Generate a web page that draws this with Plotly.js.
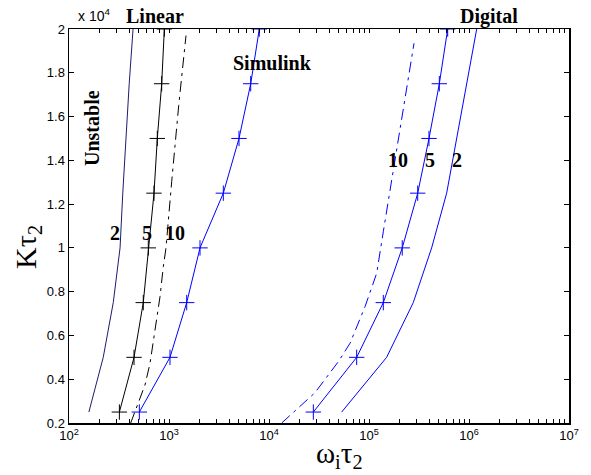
<!DOCTYPE html>
<html><head><meta charset="utf-8">
<script src="https://cdn.plot.ly/plotly-3.0.1.min.js"></script>
<style>body{margin:0;background:#fff}#c{width:591px;height:475px}</style>
</head><body><div id="c"></div>
<script>
const K = [2500, 5000, 7500, 10000, 12500, 15000, 17500, 20000];
// Linear (black)
const lin2 = [158, 220, 277, 324, 345, 370, 400, 437];
const lin5 = [319, 447, 553, 621, 708, 764, 845, 898];
const lin10K = [2000, 3736, 4727, 6250, 7770, 9140, 10000, 13024, 16500, 19700];
const lin10 = [414, 575, 646, 724, 813, 877, 933, 1064, 1250, 1479];
// Simulink (blue, markers)
const sim = [505, 1023, 1503, 2042, 3493, 5012, 6561, 8000];
// Digital (blue)
const dig10K = [2000, 3385, 4800, 5640, 7313, 8840, 10740, 13560, 16450, 19350];
const dig10 = [13400, 28840, 49320, 64565, 91200, 119400, 139000, 175000, 224000, 282000];
const dig5 = [27750, 75300, 139000, 215000, 307000, 398000, 505000, 612000];
const dig2 = [53300, 150000, 277000, 423000, 598000, 753000, 948000, 1194000];
const yTickVals = [2000, 4000, 6000, 8000, 10000, 12000, 14000, 16000, 18000, 20000];
const yTickText = ['0.2', '0.4', '0.6', '0.8', '1', '1.2', '1.4', '1.6', '1.8', '2'];
const xTickVals = [100, 1000, 10000, 100000, 1000000, 10000000];
const xTickLabels = ['10<sup>2</sup>', '10<sup>3</sup>', '10<sup>4</sup>', '10<sup>5</sup>', '10<sup>6</sup>', '10<sup>7</sup>'];

// major + minor tick positions on the log axis; minor ones get empty labels
const xAllTicks = [], xAllText = [];
for (let i = 0; i < xTickVals.length; i++) {
  xAllTicks.push(xTickVals[i]); xAllText.push(xTickLabels[i]);
  if (i < xTickVals.length - 1) for (let m = 2; m <= 9; m++) { xAllTicks.push(xTickVals[i] * m); xAllText.push(''); }
}

const mk = {symbol: 'cross-thin-open', size: 11, line: {width: 1}};
const dd = '11px,5px,3px,5px';
const traces = [
  {x: lin2, y: K, mode: 'lines', line: {color: '#1c1c6e', width: 1}},
  {x: lin5, y: K, mode: 'lines+markers', line: {color: '#000', width: 1}, marker: Object.assign({}, mk, {color: '#000', line: {width: 1, color: '#000'}})},
  {x: lin10, y: lin10K, mode: 'lines', line: {color: '#000', width: 1, dash: dd}},
  {x: sim, y: K, mode: 'lines+markers', line: {color: '#0000ff', width: 1}, marker: Object.assign({}, mk, {color: '#0000ff', line: {width: 1, color: '#0000ff'}})},
  {x: dig10, y: dig10K, mode: 'lines', line: {color: '#0000ff', width: 1, dash: dd}},
  {x: dig5, y: K, mode: 'lines+markers', line: {color: '#0000ff', width: 1}, marker: Object.assign({}, mk, {color: '#0000ff', line: {width: 1, color: '#0000ff'}})},
  {x: dig2, y: K, mode: 'lines', line: {color: '#0000ff', width: 1}}
];
const serifB = {family: 'Liberation Serif, Times New Roman, serif', size: 20, color: '#000', weight: 'bold'};
function ann(text, x, y, extra) {
  return Object.assign({text: text, x: x, y: y, xref: 'paper', yref: 'paper', xanchor: 'center', yanchor: 'middle', showarrow: false, font: serifB}, extra || {});
}
// paper coords: x: (px-69)/500, y: (423-py)/394
function px(v) { return (v - 69) / 500; }
function py(v) { return (423 - v) / 394; }
const annotations = [
  ann('<b>Linear</b>', px(155), py(16)),
  ann('<b>Digital</b>', px(489), py(16)),
  ann('<b>Simulink</b>', px(272), py(63)),
  ann('<b>Unstable</b>', px(92), py(128), {textangle: -90}),
  ann('<b>2</b>', px(115), py(233)),
  ann('<b>5</b>', px(147), py(233)),
  ann('<b>10</b>', px(175), py(233)),
  ann('<b>10</b>', px(398), py(160)),
  ann('<b>5</b>', px(430), py(160)),
  ann('<b>2</b>', px(457), py(160)),
  ann('x 10<sup>4</sup>', px(94), py(15), {font: {family: 'Liberation Sans, Arial, sans-serif', size: 14, color: '#000'}}),
  ann('ω<sub>i</sub>τ<sub>2</sub>', px(339), py(455), {font: {family: 'Liberation Serif, Times New Roman, serif', size: 29, color: '#000'}}),
  ann('Kτ<sub>2</sub>', px(28), py(247), {textangle: -90, font: {family: 'Liberation Serif, Times New Roman, serif', size: 30, color: '#000'}})
];
const layout = {
  width: 591, height: 475,
  margin: {l: 69, r: 22, t: 29, b: 52},
  paper_bgcolor: '#fff', plot_bgcolor: '#fff',
  showlegend: false,
  font: {family: 'Liberation Sans, Arial, sans-serif', size: 13, color: '#000'},
  xaxis: {type: 'log', range: [2, 7], tickmode: 'array', tickvals: xAllTicks, ticktext: xAllText,
    ticks: 'inside', ticklen: 4, tickwidth: 1, tickcolor: '#000', showline: true, linecolor: '#000', linewidth: 1.5, mirror: 'ticks',
    showgrid: false, zeroline: false, tickfont: {size: 13}},
  yaxis: {range: [2000, 20000], tickvals: yTickVals, ticktext: yTickText,
    ticks: 'inside', ticklen: 5, tickwidth: 1, tickcolor: '#000', showline: true, linecolor: '#000', linewidth: 1.5, mirror: 'ticks',
    showgrid: false, zeroline: false, tickfont: {size: 13}},
  annotations: annotations
};
Plotly.newPlot('c', traces, layout, {displayModeBar: false, staticPlot: true});
</script></body></html>
